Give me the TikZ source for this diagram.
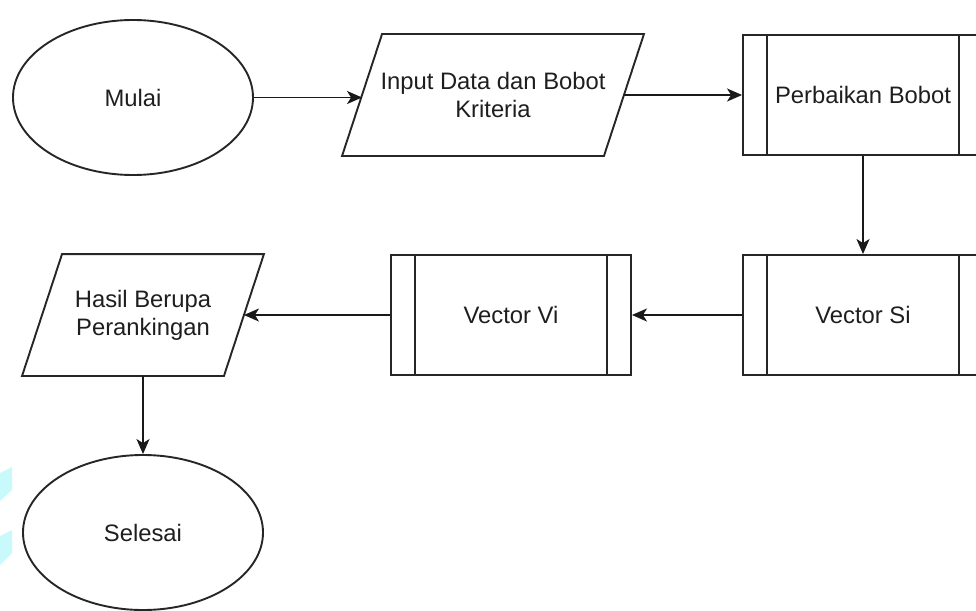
\documentclass[tikz,border=0pt]{standalone}
\usepackage{fontspec}
\setmainfont{Liberation Sans}
\usetikzlibrary{shapes.geometric,arrows.meta}
\definecolor{txt}{RGB}{30,30,30}
\definecolor{wm}{RGB}{200,250,252}
\tikzset{
  base/.style={line width=1.9pt, draw=black!85, font=\fontsize{23.8}{28}\selectfont, text=txt, align=center, inner sep=0pt},
  term/.style={base, ellipse, minimum width=240pt, minimum height=155pt},
  iobox/.style={base, draw=none, rectangle, minimum height=120pt},
  procbox/.style={base, rectangle, minimum width=240pt, minimum height=120pt,
    path picture={
      \draw[line width=1.9pt, black!85] ([xshift=24pt]path picture bounding box.north west) -- ([xshift=24pt]path picture bounding box.south west);
      \draw[line width=1.9pt, black!85] ([xshift=-24pt]path picture bounding box.north east) -- ([xshift=-24pt]path picture bounding box.south east);
    }},
  conn/.style={line width=1.9pt, draw=black!90, -{Stealth[length=15pt,width=13pt,inset=4pt]}},
  iopath/.style={line width=1.9pt, draw=black!85, line join=miter}
}
\begin{document}
\begin{tikzpicture}[x=1pt,y=-1pt]
\useasboundingbox (0,0) rectangle (976,610);
\clip (0,0) rectangle (976,610);
% watermark fragments
\fill[wm] (0,473) -- (12,467) -- (12,490) -- (0,501) -- cycle;
\fill[wm] (0,536) -- (12,530) -- (12,553) -- (0,565) -- cycle;

\node[term] (mulai) at (133,97.5) {Mulai};
\node[iobox, minimum width=260pt] (input) at (493,95) {Input Data dan Bobot\\Kriteria};
\draw[iopath] ([xshift=20pt]input.north west) -- ([xshift=20pt]input.north east) -- ([xshift=-20pt]input.south east) -- ([xshift=-20pt]input.south west) -- cycle;
\node[procbox] (perbaikan) at (863,95) {Perbaikan Bobot};
\node[procbox] (vsi) at (863,315) {Vector Si};
\node[procbox] (vvi) at (511,315) {Vector Vi};
\node[iobox, minimum width=200pt] (hasil) at (143,315) {Hasil Berupa\\Perankingan};
\draw[iopath] ([xshift=20pt]hasil.north west) -- ([xshift=20pt]hasil.north east) -- ([xshift=-20pt]hasil.south east) -- ([xshift=-20pt]hasil.south west) -- cycle;
\node[term] (selesai) at (143,532.5) {Selesai};

\draw[conn] (mulai.east) -- (mulai.east -| input.west);
\draw[conn] (input.east) -- (perbaikan.west);
\draw[conn] (perbaikan.south) -- (vsi.north);
\draw[conn] (vsi.west) -- (vvi.east);
\draw[conn] (vvi.west) -- (hasil.east);
\draw[conn] (hasil.south) -- (selesai.north);
\end{tikzpicture}
\end{document}
